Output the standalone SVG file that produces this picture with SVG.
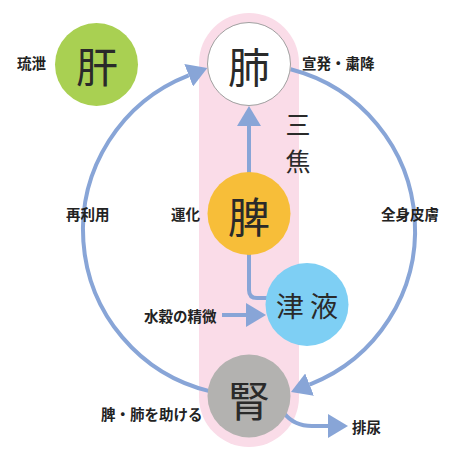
<svg xmlns="http://www.w3.org/2000/svg" width="460" height="460" viewBox="0 0 460 460">
<style>
.lbl{font-family:"Noto Sans CJK JP","Noto Sans CJK SC",sans-serif;font-size:14.5px;font-weight:bold;fill:#222;dominant-baseline:central}
.big{font-family:"Noto Sans CJK JP","Noto Sans CJK SC",sans-serif;font-weight:normal;fill:#2a2a2a;text-anchor:middle;dominant-baseline:central}
.con{fill:none;stroke:#88a5d7;stroke-width:4}
</style>
<defs>
<marker id="ah" markerUnits="userSpaceOnUse" markerWidth="22" markerHeight="24" refX="0" refY="12" orient="auto">
<path d="M0,0 L20,12 L0,24 Z" fill="#88a5d7"/>
</marker>
</defs>
<rect id="sanjiao-band" x="199" y="13" width="100" height="434" rx="50" ry="50" fill="#fadce8"/>
<g id="connectors">
<path class="con" d="M210.3,391.4 A166,166 0 0,1 188.7,75.3" marker-end="url(#ah)"/>
<path class="con" d="M290.6,69.3 A166,166 0 0,1 309.6,384.6" marker-end="url(#ah)"/>
<path class="con" d="M268,298 L257,298 Q249,298 249,290 L249,126" marker-end="url(#ah)"/>
<path class="con" d="M222,315 L246,315" marker-end="url(#ah)"/>
<path class="con" d="M284,413 Q294,426 312,426 L328,426" marker-end="url(#ah)"/>
</g>
<g id="node-kan">
<circle cx="96.5" cy="64.5" r="41.5" fill="#a9d052"/>
<text class="big" x="97" y="64" font-size="42">肝</text>
</g>
<g id="node-hai">
<circle cx="249" cy="64" r="41.5" fill="#fff" stroke="#a0a0a0" stroke-width="1"/>
<text class="big" x="249" y="64" font-size="42">肺</text>
</g>
<g id="node-hi">
<circle cx="249" cy="213.5" r="41.5" fill="#f7be39"/>
<text class="big" x="249" y="214" font-size="42">脾</text>
</g>
<g id="node-shineki">
<circle cx="307" cy="304.5" r="41.5" fill="#7ecff4"/>
<text class="big" x="290" y="305" font-size="28">津</text>
<text class="big" x="324" y="305" font-size="28">液</text>
</g>
<g id="node-jin">
<circle cx="249" cy="396" r="41.5" fill="#b3b2b0"/>
<text class="big" x="249" y="398" font-size="42">腎</text>
</g>
<g id="sanjiao-label">
<text class="big" x="298" y="123" font-size="25">三</text>
<text class="big" x="298" y="160" font-size="25">焦</text>
</g>
<g id="labels">
<text class="lbl" x="17" y="62.5">琉泄</text>
<text class="lbl" x="302" y="62.5">宣発・粛降</text>
<text class="lbl" x="66" y="213">再利用</text>
<text class="lbl" x="171" y="213">運化</text>
<text class="lbl" x="381" y="213">全身皮膚</text>
<text class="lbl" x="144" y="315">水穀の精微</text>
<text class="lbl" x="101" y="413.5">脾・肺を助ける</text>
<text class="lbl" x="352" y="426">排尿</text>
</g>
</svg>
